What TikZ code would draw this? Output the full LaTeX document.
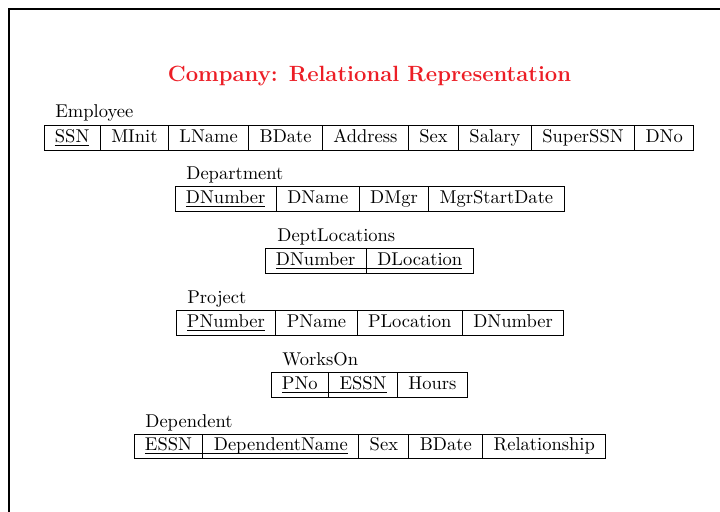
\documentclass[tikz,border=0pt]{standalone}
\usepackage{xcolor}
\usepackage{tikz}
\usetikzlibrary{positioning}
\definecolor{titlered}{RGB}{236,30,38}

\begin{document}
\begin{tikzpicture}[x=0.54pt, y=-0.54pt,
  cell/.style={draw, line width=0.5pt, outer sep=0pt, inner xsep=5.9pt,
    inner ysep=1.8pt, text height=6.9pt, text depth=2.5pt},
  keyline/.style={line width=0.45pt},
  relname/.style={anchor=base west, inner sep=0pt}]

\useasboundingbox (0,0) rectangle (720,512);
\draw[line width=0.8pt] (9,520) -- (9,9) -- (730,9);

\node (title) at (369.5,82) [anchor=base]{\fontsize{11.9}{14}\selectfont\bfseries\color{titlered}Company: Relational Representation};

% Employee
\node (emp) at (55,118) [relname]{Employee};
\node (e1) at (44,138) [cell, anchor=west]{SSN};
\node (e2) [cell, right=0pt of e1]{MInit};
\node (e3) [cell, right=0pt of e2]{LName};
\node (e4) [cell, right=0pt of e3]{BDate};
\node (e5) [cell, right=0pt of e4]{Address};
\node (e6) [cell, right=0pt of e5]{Sex};
\node (e7) [cell, right=0pt of e6]{Salary};
\node (e8) [cell, right=0pt of e7]{SuperSSN};
\node (e9) [cell, right=0pt of e8]{DNo};
\draw[keyline] ([shift={(5.9pt,-1.8pt)}]e1.base west) -- ([shift={(-5.9pt,-1.8pt)}]e1.base east);

% Department
\node (dept) at (186,180) [relname]{Department};
\node (d1) at (175,199) [cell, anchor=west]{DNumber};
\node (d2) [cell, right=0pt of d1]{DName};
\node (d3) [cell, right=0pt of d2]{DMgr};
\node (d4) [cell, right=0pt of d3]{MgrStartDate};
\draw[keyline] ([shift={(5.9pt,-1.8pt)}]d1.base west) -- ([shift={(-5.9pt,-1.8pt)}]d1.base east);

% DeptLocations
\node (dloc) at (277,242) [relname]{DeptLocations};
\node (l1) at (265,261) [cell, anchor=west]{DNumber};
\node (l2) [cell, right=0pt of l1]{DLocation};
\draw[keyline] ([shift={(5.9pt,-1.8pt)}]l1.base west) -- ([shift={(-5.9pt,-1.8pt)}]l2.base east);

% Project
\node (proj) at (187,304) [relname]{Project};
\node (p1) at (176,323) [cell, anchor=west]{PNumber};
\node (p2) [cell, right=0pt of p1]{PName};
\node (p3) [cell, right=0pt of p2]{PLocation};
\node (p4) [cell, right=0pt of p3]{DNumber};
\draw[keyline] ([shift={(5.9pt,-1.8pt)}]p1.base west) -- ([shift={(-5.9pt,-1.8pt)}]p1.base east);

% WorksOn
\node (works) at (282,365) [relname]{WorksOn};
\node (w1) at (271,385) [cell, anchor=west]{PNo};
\node (w2) [cell, right=0pt of w1]{ESSN};
\node (w3) [cell, right=0pt of w2]{Hours};
\draw[keyline] ([shift={(5.9pt,-1.8pt)}]w1.base west) -- ([shift={(-5.9pt,-1.8pt)}]w2.base east);

% Dependent
\node (dep) at (145,427) [relname]{Dependent};
\node (t1) at (134,446) [cell, anchor=west]{ESSN};
\node (t2) [cell, right=0pt of t1]{DependentName};
\node (t3) [cell, right=0pt of t2]{Sex};
\node (t4) [cell, right=0pt of t3]{BDate};
\node (t5) [cell, right=0pt of t4]{Relationship};
\draw[keyline] ([shift={(5.9pt,-1.8pt)}]t1.base west) -- ([shift={(-5.9pt,-1.8pt)}]t2.base east);

\end{tikzpicture}
\end{document}
